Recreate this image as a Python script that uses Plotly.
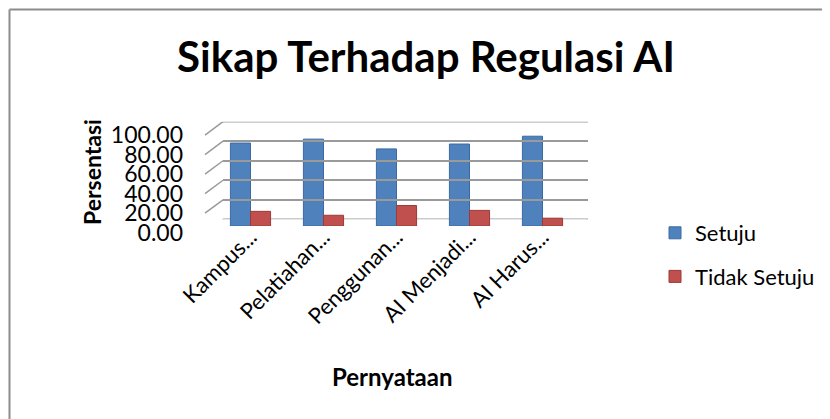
import plotly.graph_objects as go

categories = ["Kampus...", "Pelatiahan...", "Penggunan...", "AI Menjadi...", "AI Harus..."]
setuju = [85, 89, 79, 84, 92]
tidak_setuju = [15, 11, 21, 16, 8]
y_ticks = [0, 20, 40, 60, 80, 100]

# the page puts the figure 8px in from the window's top-left corner
OFF = 8
W, H = 830 - OFF, 419 - OFF
FONT = "Lato"
GRID = "#9a9a9a"

def px_x(x):
    return (x - OFF) / W

def px_y(y):
    return 1 - (y - OFF) / H

# front (labels), mid (bars), back (grid walls) in window pixels
front_x = (205, 570); front_y = (232.7, 135.0)
mid_x = (214, 579);   mid_y = (226.0, 128.4)
back_x = (223, 588);  back_y = (219.3, 121.7)
label_x = 184
cat_label_y = 219

fig = go.Figure()
fig.add_trace(go.Bar(x=categories, y=setuju, name="Setuju",
                     marker=dict(color="#4F81BD", line=dict(color="#3b6aa3", width=1)),
                     xaxis="x", yaxis="y", legendgroup="a"))
fig.add_trace(go.Bar(x=categories, y=tidak_setuju, name="Tidak Setuju",
                     marker=dict(color="#C0504D", line=dict(color="#9c3a37", width=1)),
                     xaxis="x", yaxis="y", legendgroup="b"))
# empty traces so that the back-wall, front-label and category-label axes are drawn
fig.add_trace(go.Scatter(x=[], y=[], xaxis="x2", yaxis="y2", showlegend=False))
fig.add_trace(go.Scatter(x=[], y=[], xaxis="x3", yaxis="y3", showlegend=False))
fig.add_trace(go.Scatter(x=categories, y=[None] * len(categories), xaxis="x4", yaxis="y4",
                         showlegend=False, hoverinfo="skip"))

depth_units = (front_y[0] - back_y[0]) / ((back_y[0] - back_y[1]) / 100)
depth_dom = (back_x[0] - front_x[0]) / (back_x[1] - back_x[0])

shapes = []
for v in y_ticks:
    shapes.append(dict(type="line", xref="x2 domain", yref="y2",
                       x0=-depth_dom, y0=v - depth_units, x1=0, y1=v,
                       line=dict(color=GRID, width=1.5), layer="below"))
# back-wall lines at 0 and 100 (range edges)
for v in (y_ticks[0], y_ticks[-1]):
    shapes.append(dict(type="line", xref="x2 domain", yref="y2",
                       x0=0, y0=v, x1=1, y1=v,
                       line=dict(color=GRID, width=1.5), layer="below"))
# floor front edge and right edge
shapes.append(dict(type="line", xref="x2 domain", yref="y2",
                   x0=-depth_dom, y0=-depth_units, x1=1 - depth_dom, y1=-depth_units,
                   line=dict(color=GRID, width=1.5), layer="below"))
shapes.append(dict(type="line", xref="x2 domain", yref="y2",
                   x0=1 - depth_dom, y0=-depth_units, x1=1, y1=0,
                   line=dict(color=GRID, width=1.5), layer="below"))
# chart border (top and left edges visible)
shapes.append(dict(type="line", xref="paper", yref="paper",
                   x0=px_x(9.5), y0=0, x1=px_x(9.5), y1=px_y(9.5),
                   line=dict(color="#8c8c8c", width=2)))
shapes.append(dict(type="line", xref="paper", yref="paper",
                   x0=px_x(9.5), y0=px_y(9.5), x1=1, y1=px_y(9.5),
                   line=dict(color="#8c8c8c", width=2)))

hidden = dict(showgrid=False, showticklabels=False, zeroline=False, showline=False,
              automargin=False)

fig.update_layout(
    width=W, height=H, autosize=False,
    margin=dict(l=0, r=0, t=0, b=0),
    paper_bgcolor="white", plot_bgcolor="rgba(0,0,0,0)",
    font=dict(family=FONT, color="black"),
    barmode="group", bargap=0.45, bargroupgap=0,
    title=dict(text="<b>Sikap Terhadap Regulasi AI</b>", x=px_x(426), xanchor="center",
               y=px_y(57), yanchor="middle", font=dict(size=42, family=FONT, color="black")),
    xaxis=dict(domain=[px_x(mid_x[0]), px_x(mid_x[1])], anchor="y", **hidden),
    yaxis=dict(domain=[px_y(mid_y[0]), px_y(mid_y[1])], anchor="x", range=[0, 100], **hidden),
    xaxis2=dict(domain=[px_x(back_x[0]), px_x(back_x[1])], anchor="y2", range=[0, 1], **hidden),
    yaxis2=dict(domain=[px_y(back_y[0]), px_y(back_y[1])], anchor="x2", range=[0, 100],
                tickvals=y_ticks, showgrid=True, gridcolor=GRID, gridwidth=1.5,
                showticklabels=False, zeroline=False, showline=False, automargin=False),
    xaxis3=dict(domain=[px_x(label_x), px_x(front_x[1])], anchor="y3", range=[0, 1], **hidden),
    yaxis3=dict(domain=[px_y(front_y[0]), px_y(front_y[1])], anchor="x3", range=[0, 100],
                tickvals=y_ticks, tickformat=".2f", showgrid=False, zeroline=False,
                showline=False, automargin=False, ticks="",
                tickfont=dict(size=23, family=FONT, color="black")),
    xaxis4=dict(domain=[px_x(mid_x[0]), px_x(mid_x[1])], anchor="y4", type="category",
                categoryorder="array", categoryarray=categories,
                range=[-0.5, len(categories) - 0.5], tickangle=-45, showgrid=False,
                zeroline=False, showline=False, automargin=False, ticks="",
                tickfont=dict(size=22, family=FONT, color="black")),
    yaxis4=dict(domain=[px_y(cat_label_y), px_y(cat_label_y - 20)], anchor="x4",
                range=[0, 1], **hidden),
    legend=dict(x=px_x(655), y=px_y(212), xanchor="left", yanchor="top",
                font=dict(size=22, family=FONT, color="black"), tracegroupgap=12,
                bgcolor="rgba(0,0,0,0)"),
    shapes=shapes,
    annotations=[
        dict(text="<b>Persentasi</b>", xref="paper", yref="paper", x=px_x(92), y=px_y(172),
             xanchor="center", yanchor="middle",
             showarrow=False, textangle=-90, font=dict(size=23, family=FONT, color="black")),
        dict(text="<b>Pernyataan</b>", xref="paper", yref="paper", x=px_x(392), y=px_y(376),
             xanchor="center", yanchor="middle",
             showarrow=False, font=dict(size=24, family=FONT, color="black")),
    ],
)

fig.write_html("out.html")
